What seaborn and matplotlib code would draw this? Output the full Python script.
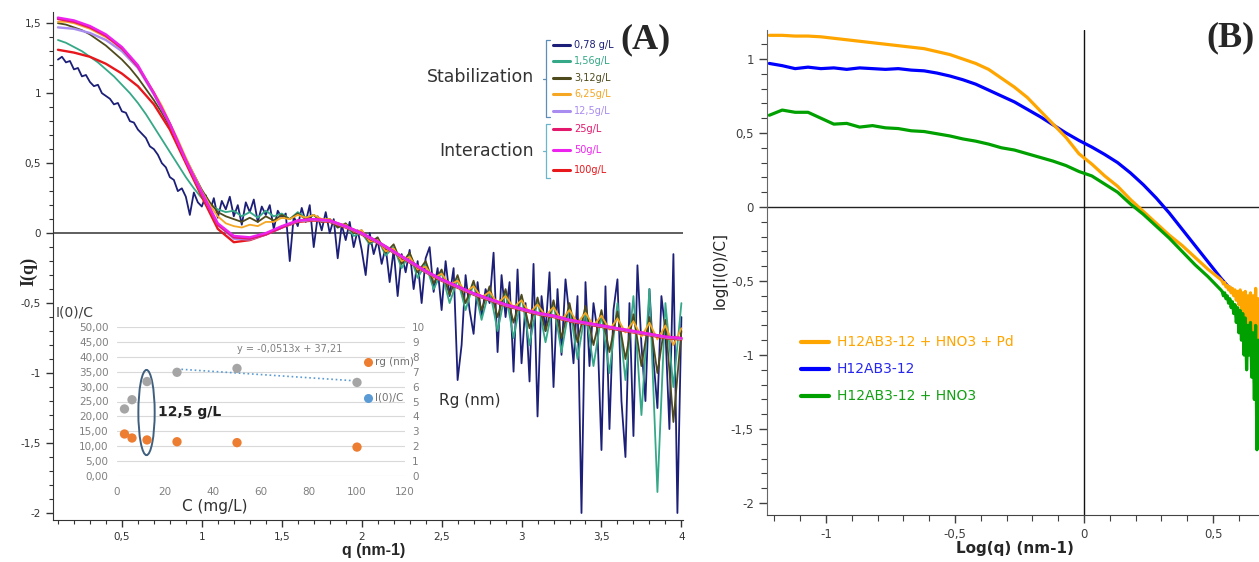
import numpy as np
import matplotlib
matplotlib.use('Agg')
import matplotlib.pyplot as plt
from matplotlib.lines import Line2D
from matplotlib.patches import Ellipse
from matplotlib.ticker import MultipleLocator, FuncFormatter
import seaborn as sns

# ---------- panel A : I(q) for each concentration (q from 0.1 to 4 nm-1) ----------
conc_labels = ['0,78 g/L', '1,56g/L', '3,12g/L', '6,25g/L', '12,5g/L', '25g/L', '50g/L', '100g/L']
conc_colors = ['#1c1f78', '#35a887', '#4e4a1c', '#f5a623', '#a98cf0', '#e3186c', '#ee22ee', '#e8171c']

# 0,78 g/L, sampled every 0.025
iq_078 = [1.24, 1.26, 1.22, 1.23, 1.17, 1.18, 1.12, 1.13, 1.08, 1.05,
          1.06, 1.00, 0.98, 0.96, 0.92, 0.93, 0.87, 0.86, 0.80, 0.79,
          0.74, 0.71, 0.68, 0.62, 0.60, 0.56, 0.50, 0.47, 0.40, 0.38,
          0.30, 0.32,
          0.26, 0.13, 0.29, 0.22, 0.19, 0.27, 0.15, 0.25, 0.11, 0.23,
          0.17, 0.26, 0.12, 0.20, 0.06, 0.22, 0.15, 0.24, 0.08, 0.19,
          0.13, 0.20, 0.03, 0.16, 0.11,
          0.14, -0.20, 0.12, 0.05, 0.18, 0.08, 0.20, -0.10, 0.12, 0.02,
          0.15, 0.00, 0.10, -0.18, 0.06, -0.05, 0.08, -0.10, 0.02, -0.12,
          -0.30, 0.00, -0.15, -0.05, -0.22, -0.10, -0.35, -0.12, -0.45, -0.15,
          -0.28, -0.12, -0.40, -0.20, -0.50, -0.18, -0.10, -0.42, -0.25, -0.55,
          -0.20, -0.45, -0.25, -1.05, -0.80, -0.30, -0.55, -0.72, -0.35, -0.60,
          -0.40, -0.50, -0.14, -0.85, -0.30, -0.60, -0.35, -0.99, -0.26, -0.93,
          -0.50, -1.06, -0.22, -1.31, -0.45, -0.70, -0.28, -1.10, -0.40, -0.87,
          -0.33, -0.60, -0.93, -0.45, -2.00, -0.35, -0.95, -0.50, -0.70, -1.55,
          -0.38, -1.40, -0.55, -0.33, -1.20, -1.60, -0.50, -1.45, -0.23, -0.80,
          -1.20, -0.40, -0.90, -1.25, -0.45, -0.70, -1.40, -0.15, -2.00, -0.60]

# 1,56 / 3,12 / 6,25 g/L, sampled every 0.05
iq_156 = [1.38, 1.36, 1.33, 1.30, 1.26, 1.22, 1.17, 1.12, 1.06, 1.00,
          0.93, 0.85, 0.76, 0.67, 0.58, 0.49, 0.40, 0.32, 0.25,
          0.20, 0.17, 0.15, 0.16, 0.12, 0.15, 0.11, 0.16, 0.12, 0.14,
          0.10, 0.15, 0.11, 0.13, 0.08, 0.10, 0.04, 0.06, -0.02, 0.00,
          -0.08, -0.04, -0.16, -0.10, -0.25, -0.15, -0.32, -0.22, -0.40, -0.28,
          -0.50, -0.33, -0.55, -0.36, -0.62, -0.40, -0.70, -0.42, -0.75, -0.45,
          -0.80, -0.48, -0.78, -0.50, -0.85, -0.52, -0.90, -0.55, -0.95, -0.58,
          -1.00, -0.50, -1.05, -0.45, -1.30, -0.40, -1.85, -0.50, -1.10, -0.50]
iq_312 = [1.50, 1.49, 1.47, 1.45, 1.42, 1.38, 1.34, 1.29, 1.24, 1.18,
          1.11, 1.03, 0.95, 0.86, 0.76, 0.65, 0.53, 0.42, 0.31,
          0.22, 0.15, 0.12, 0.10, 0.08, 0.11, 0.08, 0.12, 0.09, 0.13,
          0.10, 0.14, 0.10, 0.13, 0.08, 0.10, 0.04, 0.07, 0.00, 0.02,
          -0.07, -0.03, -0.14, -0.08, -0.22, -0.14, -0.28, -0.20, -0.36, -0.26,
          -0.44, -0.30, -0.50, -0.34, -0.55, -0.38, -0.60, -0.40, -0.64, -0.44,
          -0.68, -0.46, -0.70, -0.48, -0.75, -0.50, -0.78, -0.52, -0.80, -0.55,
          -0.85, -0.56, -0.90, -0.58, -0.95, -0.60, -1.00, -0.62, -1.35, -0.70]
iq_625 = [1.51, 1.51, 1.50, 1.48, 1.46, 1.43, 1.40, 1.36, 1.31, 1.25,
          1.18, 1.10, 1.01, 0.91, 0.79, 0.67, 0.54, 0.42, 0.30,
          0.20, 0.12, 0.07, 0.05, 0.04, 0.06, 0.05, 0.08, 0.08, 0.11,
          0.10, 0.13, 0.11, 0.13, 0.10, 0.10, 0.06, 0.06, 0.01, 0.02,
          -0.06, -0.05, -0.13, -0.11, -0.20, -0.17, -0.26, -0.24, -0.32, -0.29,
          -0.37, -0.34, -0.42, -0.38, -0.46, -0.42, -0.50, -0.45, -0.53, -0.48,
          -0.57, -0.51, -0.59, -0.53, -0.62, -0.55, -0.64, -0.57, -0.66, -0.59,
          -0.69, -0.61, -0.71, -0.63, -0.74, -0.64, -0.76, -0.66, -0.80, -0.68]

# 12,5 / 25 / 50 / 100 g/L, sampled every 0.1
iq_125 = [1.47, 1.46, 1.43, 1.38, 1.30, 1.18, 0.99, 0.78, 0.52, 0.28,
          0.06, -0.04, -0.045, -0.01, 0.04, 0.085, 0.095, 0.085, 0.045, -0.005,
          -0.065, -0.135, -0.205, -0.275, -0.335, -0.385, -0.435, -0.475, -0.515, -0.545,
          -0.575, -0.595, -0.625, -0.645, -0.665, -0.685, -0.705, -0.725, -0.745, -0.755]
iq_25 = [1.53, 1.51, 1.47, 1.41, 1.32, 1.19, 1.00, 0.78, 0.52, 0.28,
         0.06, -0.03, -0.04, -0.01, 0.04, 0.09, 0.10, 0.09, 0.05, 0.00,
         -0.06, -0.13, -0.20, -0.27, -0.33, -0.38, -0.43, -0.47, -0.51, -0.54,
         -0.57, -0.59, -0.62, -0.64, -0.66, -0.68, -0.70, -0.72, -0.74, -0.75]
iq_50 = [1.54, 1.52, 1.48, 1.42, 1.33, 1.20, 1.00, 0.78, 0.52, 0.29,
         0.07, -0.02, -0.03, 0.00, 0.05, 0.09, 0.10, 0.09, 0.05, 0.00,
         -0.06, -0.13, -0.20, -0.27, -0.33, -0.38, -0.43, -0.47, -0.51, -0.54,
         -0.57, -0.59, -0.62, -0.64, -0.66, -0.68, -0.70, -0.72, -0.74, -0.75]
iq_100 = [1.31, 1.29, 1.26, 1.21, 1.14, 1.05, 0.92, 0.74, 0.50, 0.26,
          0.03, -0.065, -0.05, -0.01, 0.04, 0.08, 0.09, 0.08, 0.04, -0.01,
          -0.07, -0.14, -0.21, -0.28, -0.34, -0.39, -0.44, -0.48, -0.52, -0.55,
          -0.58, -0.60, -0.63, -0.65, -0.67, -0.69, -0.71, -0.73, -0.75, -0.76]

series_A = [iq_078, iq_156, iq_312, iq_625, iq_125, iq_25, iq_50, iq_100]
draw_order_A = [0, 1, 2, 3, 7, 4, 5, 6]

# ---------- inset : I(0)/C and Rg vs concentration ----------
inset_conc = [3.12, 6.25, 12.5, 25, 50, 100]
inset_i0c = [22.5, 25.6, 31.7, 34.8, 36.1, 31.4]
inset_rg = [2.82, 2.55, 2.42, 2.30, 2.24, 1.94]
trend_conc = [25, 100]
trend_i0c = [35.9, 31.9]

# ---------- panel B : log I(0)/C vs log q ----------
logq_main = np.linspace(-1.22, 0.53, 36)
logq_tail = np.linspace(0.535, 0.68, 30)
b_labels = ['H12AB3-12 + HNO3 + Pd', 'H12AB3-12', 'H12AB3-12 + HNO3']
b_colors = ['#ffa500', '#0000ff', '#00a000']
b_text_colors = ['#ffa500', '#2626ee', '#12a012']

pd_main = [1.16, 1.16, 1.155, 1.155, 1.15, 1.14, 1.13, 1.12, 1.11, 1.10,
           1.09, 1.08, 1.07, 1.05, 1.03, 1.00, 0.97, 0.93, 0.87, 0.81,
           0.74, 0.65, 0.56, 0.47, 0.36, 0.29, 0.21, 0.14, 0.05, -0.03,
           -0.11, -0.19, -0.26, -0.34, -0.42, -0.49]
pd_tail = [-0.50, -0.52, -0.51, -0.54, -0.53, -0.56, -0.54, -0.58, -0.55, -0.60,
           -0.56, -0.63, -0.57, -0.66, -0.56, -0.70, -0.58, -0.74, -0.57, -0.78,
           -0.60, -0.82, -0.58, -0.86, -0.60, -0.90, -0.55, -0.95, -0.62, -0.90]
ab_main = [0.97, 0.955, 0.935, 0.945, 0.935, 0.94, 0.93, 0.94, 0.935, 0.93,
           0.935, 0.925, 0.92, 0.905, 0.885, 0.86, 0.83, 0.79, 0.75, 0.71,
           0.66, 0.61, 0.555, 0.50, 0.45, 0.405, 0.355, 0.30, 0.23, 0.15,
           0.06, -0.04, -0.15, -0.26, -0.37, -0.48]
ab_tail = [-0.49, -0.50, -0.51, -0.52, -0.53, -0.54, -0.545, -0.55, -0.56, -0.57,
           -0.58, -0.585, -0.60, -0.60, -0.62, -0.61, -0.64, -0.62, -0.66, -0.63,
           -0.70, -0.65, -0.75, -0.66, -0.80, -0.70, -0.99, -0.72, -0.85, -0.75]
hno3_main = [0.62, 0.655, 0.64, 0.64, 0.60, 0.56, 0.565, 0.54, 0.55, 0.535,
             0.53, 0.515, 0.51, 0.495, 0.48, 0.46, 0.445, 0.425, 0.40, 0.385,
             0.36, 0.335, 0.31, 0.28, 0.24, 0.21, 0.155, 0.10, 0.02, -0.05,
             -0.13, -0.21, -0.30, -0.39, -0.47, -0.56]
hno3_tail = [-0.57, -0.60, -0.58, -0.62, -0.60, -0.65, -0.62, -0.68, -0.64, -0.72,
             -0.66, -0.78, -0.68, -0.85, -0.70, -0.90, -0.72, -1.00, -0.75, -1.10,
             -0.80, -1.00, -0.78, -1.15, -0.85, -1.30, -0.80, -1.64, -0.90, -1.10]

series_B = [(pd_main, pd_tail), (ab_main, ab_tail), (hno3_main, hno3_tail)]
draw_order_B = [1, 0, 2]

# ---------- figure ----------
sns.set_style('ticks')
plt.rcParams['font.family'] = ['DejaVu Sans']

W, H = 1259, 562
fig = plt.figure(figsize=(W / 100, H / 100), dpi=100)


def fx(x):
    return x / W


def fy(y):
    return 1 - y / H


def comma(v, pos):
    s = f'{v:g}'
    if s == '-0':
        s = '0'
    return s.replace('.', ',')


# panel A
axA = fig.add_axes([fx(53), fy(520), 630 / W, 508 / H])
for i in draw_order_A:
    vals = series_A[i]
    q = np.linspace(0.1, 4.0, len(vals))
    lw = 1.3 if len(vals) > 40 else 1.7
    sns.lineplot(x=q, y=vals, ax=axA, color=conc_colors[i], lw=lw,
                 estimator=None, sort=False, legend=False)
axA.axhline(0, color='#333333', lw=1.1, zorder=0)
axA.set_xlim(0.069, 4.01)
axA.set_ylim(-2.05, 1.58)
axA.xaxis.set_major_locator(MultipleLocator(0.5))
axA.xaxis.set_minor_locator(MultipleLocator(0.1))
axA.yaxis.set_major_locator(MultipleLocator(0.5))
axA.yaxis.set_minor_locator(MultipleLocator(0.1))
axA.xaxis.set_major_formatter(FuncFormatter(comma))
axA.yaxis.set_major_formatter(FuncFormatter(comma))
axA.tick_params(which='major', length=5, width=1, labelsize=7.5, colors='#333333')
axA.tick_params(which='minor', length=3, width=0.8, colors='#333333')
for s in ['top', 'right']:
    axA.spines[s].set_visible(False)
for s in ['left', 'bottom']:
    axA.spines[s].set_color('#333333')
axA.set_ylabel('I(q)', fontsize=13, fontweight='bold', family='Liberation Serif')
axA.yaxis.set_label_coords(-0.025, 0.49)
fig.text(fx(374), fy(551), 'q (nm-1)', fontsize=11.5, fontweight='bold', family='Liberation Sans',
         ha='center', va='center')

fig.text(fx(645), fy(40), '(A)', fontsize=26, fontweight='bold', family='Liberation Serif',
         ha='center', va='center')
fig.text(fx(480), fy(77), 'Stabilization', fontsize=12.5, color='#333333', ha='center', va='center')
fig.text(fx(487), fy(151), 'Interaction', fontsize=12.5, color='#333333', ha='center', va='center')

# concentration legend with brackets
legend_rows = [45, 61, 78, 94, 111, 129, 150, 170]
for y, lab, col in zip(legend_rows, conc_labels, conc_colors):
    fig.add_artist(Line2D([fx(553), fx(570)], [fy(y), fy(y)], color=col, lw=2.2,
                          transform=fig.transFigure))
    fig.text(fx(574), fy(y), lab, fontsize=7, color=col, ha='left', va='center')
for (y0, y1), col in zip([(40, 117), (124, 178)], ['#5b8fb9', '#6ab6cc']):
    ym = (y0 + y1) / 2
    fig.add_artist(Line2D([fx(550), fx(546), fx(546), fx(550)], [fy(y0), fy(y0), fy(y1), fy(y1)],
                          color=col, lw=0.9, transform=fig.transFigure))
    fig.add_artist(Line2D([fx(543), fx(546)], [fy(ym), fy(ym)], color=col, lw=0.9,
                          transform=fig.transFigure))

# inset
axI = fig.add_axes([fx(117), fy(476), 288 / W, 149 / H])
axI.set_facecolor('none')
axI.set_xlim(0, 120)
axI.set_ylim(0, 50)
axI.yaxis.set_major_locator(MultipleLocator(5))
axI.xaxis.set_major_locator(MultipleLocator(20))
axI.yaxis.set_major_formatter(FuncFormatter(lambda v, p: f'{v:.2f}'.replace('.', ',')))
axI.grid(axis='y', color='#d9d9d9', lw=0.8)
axI.tick_params(length=0, labelsize=7.5, colors='#808080')
axI.tick_params(axis='x', pad=8)
axI.tick_params(axis='y', pad=6)
for s in axI.spines.values():
    s.set_visible(False)
sns.lineplot(x=trend_conc, y=trend_i0c, ax=axI, color='#5b9bd5', lw=1.2, linestyle=':',
             estimator=None, legend=False)
sns.scatterplot(x=inset_conc, y=inset_i0c, ax=axI, color='#a5a5a5', s=45, edgecolor='none',
                legend=False, zorder=3)
axI.add_patch(Ellipse((12.3, 21.3), width=6.8, height=28.6, fill=False,
                      edgecolor='#3f5f7f', lw=1.4))
axI.text(17, 21.5, '12,5 g/L', fontsize=10, fontweight='bold', color='#222222', va='center')
axI.text(72, 42.6, 'y = -0,0513x + 37,21', fontsize=7, color='#808080', ha='center', va='center')

axI2 = axI.twinx()
axI2.set_ylim(0, 10)
axI2.yaxis.set_major_locator(MultipleLocator(1))
axI2.tick_params(length=0, labelsize=7.5, colors='#808080', pad=5)
for s in axI2.spines.values():
    s.set_visible(False)
sns.scatterplot(x=inset_conc, y=inset_rg, ax=axI2, color='#ed7d31', s=45, edgecolor='none',
                legend=False, zorder=3)

for y, lab, col in [(362, 'rg (nm)', '#ed7d31'), (398, 'I(0)/C', '#5b9bd5')]:
    fig.add_artist(Line2D([fx(368)], [fy(y)], marker='o', markersize=6.5, color=col,
                          markeredgewidth=0, transform=fig.transFigure))
    fig.text(fx(375), fy(y), lab, fontsize=7.5, color='#707070', ha='left', va='center')

fig.text(fx(56), fy(313), 'I(0)/C', fontsize=10, color='#404040', ha='left', va='center')
fig.text(fx(215), fy(507), 'C (mg/L)', fontsize=11, color='#303030', ha='center', va='center')
fig.text(fx(470), fy(401), 'Rg (nm)', fontsize=11, color='#303030', ha='center', va='center')

# panel B
axB = fig.add_axes([fx(767), fy(515), (W - 767) / W, 485 / H])
for i in draw_order_B:
    main, tail = series_B[i]
    x = np.concatenate([logq_main, logq_tail])
    y = list(main) + list(tail)
    sns.lineplot(x=x, y=y, ax=axB, color=b_colors[i], lw=2.3,
                 estimator=None, sort=False, legend=False)
axB.axhline(0, color='#222222', lw=1, zorder=0)
axB.axvline(0, color='#111111', lw=1, zorder=0)
axB.set_xlim(-1.229, 0.678)
axB.set_ylim(-2.081, 1.196)
axB.xaxis.set_major_locator(MultipleLocator(0.5))
axB.xaxis.set_minor_locator(MultipleLocator(0.1))
axB.yaxis.set_major_locator(MultipleLocator(0.5))
axB.yaxis.set_minor_locator(MultipleLocator(0.1))
axB.xaxis.set_major_formatter(FuncFormatter(comma))
axB.yaxis.set_major_formatter(FuncFormatter(comma))
axB.tick_params(which='major', length=6, width=1, labelsize=8.5, colors='#404040')
axB.tick_params(which='minor', length=4, width=0.8, colors='#404040')
for s in ['top', 'right']:
    axB.spines[s].set_visible(False)
axB.spines['left'].set_color('#666666')
axB.spines['bottom'].set_color('#444444')
axB.set_ylabel('log[I(0)/C]', fontsize=11)
axB.yaxis.set_label_coords(-0.081, 0.505)
fig.text(fx(1015), fy(549), 'Log(q) (nm-1)', fontsize=11, fontweight='bold',
         ha='center', va='center')

fig.text(fx(1230), fy(38), '(B)', fontsize=26, fontweight='bold', family='Liberation Serif',
         ha='center', va='center')

for y, lab, col, tcol in zip([342, 369, 396], b_labels, b_colors, b_text_colors):
    fig.add_artist(Line2D([fx(801), fx(829)], [fy(y), fy(y)], color=col, lw=3,
                          transform=fig.transFigure))
    fig.text(fx(837), fy(y), lab, fontsize=10, color=tcol, ha='left', va='center')

fig.savefig('out.png', dpi=100)
